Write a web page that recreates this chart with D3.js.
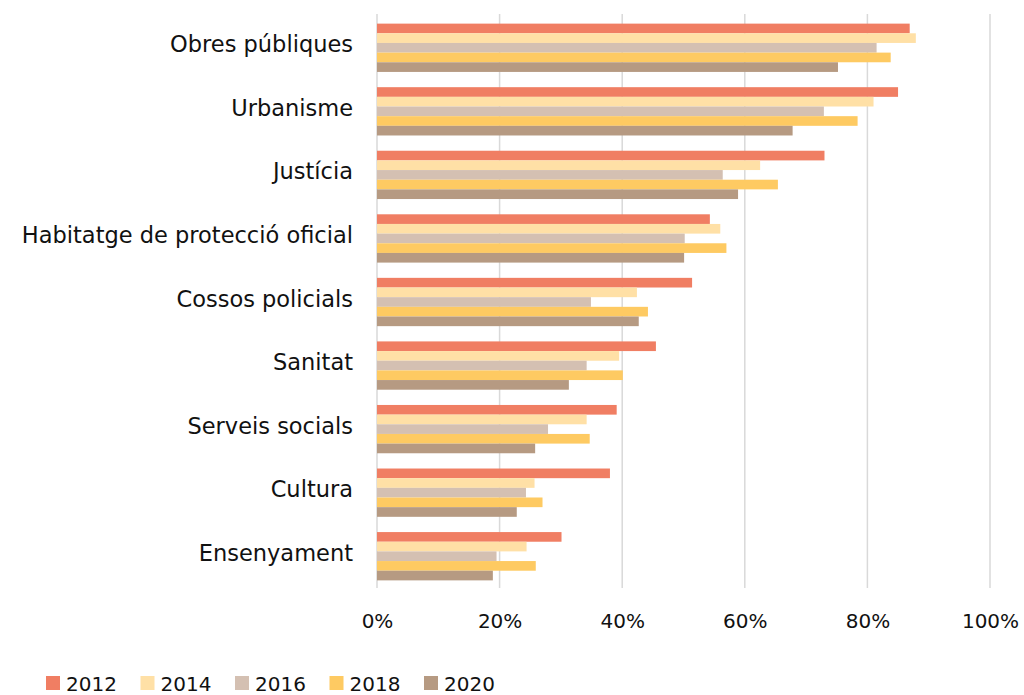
<!DOCTYPE html>
<html>
<head>
<meta charset="utf-8">
<script src="https://cdn.jsdelivr.net/npm/d3@7"></script>
<style>
  body { margin: 0; background: #fff; }
  svg text { font-family: "DejaVu Sans", sans-serif; fill: #111; }
</style>
</head>
<body>
<div id="chart"></div>
<script>
var categories = ["Obres públiques", "Urbanisme", "Justícia", "Habitatge de protecció oficial",
  "Cossos policials", "Sanitat", "Serveis socials", "Cultura", "Ensenyament"];
var years = ["2012", "2014", "2016", "2018", "2020"];
var colors = ["#F07E63", "#FFE0A6", "#D4C0B2", "#FECA62", "#B69A82"];

// values per year, same order as categories
var v2012 = [86.9, 85.0, 73.0, 54.3, 51.4, 45.5, 39.1, 38.0, 30.1];
var v2014 = [87.9, 81.0, 62.5, 56.0, 42.4, 39.5, 34.2, 25.7, 24.4];
var v2016 = [81.5, 72.9, 56.4, 50.2, 34.9, 34.2, 27.9, 24.3, 19.5];
var v2018 = [83.8, 78.4, 65.4, 57.0, 44.2, 40.1, 34.7, 27.0, 25.9];
var v2020 = [75.2, 67.8, 58.9, 50.1, 42.7, 31.3, 25.8, 22.8, 18.9];
var xTicks = [0, 20, 40, 60, 80, 100];

var series = [v2012, v2014, v2016, v2018, v2020];
var w = 1024, h = 695;
var margin = {top: 16, right: 34, bottom: 107, left: 377};

var svg = d3.select("#chart").append("svg")
  .attr("width", w)
  .attr("height", h);

var x = d3.scaleLinear()
  .domain([0, 100])
  .range([margin.left, w - margin.right]);
var y = d3.scaleBand()
  .domain(categories)
  .range([margin.top, h - margin.bottom])
  .paddingInner(0.24)
  .paddingOuter(0.12);
var ySub = d3.scaleBand()
  .domain(years)
  .range([0, y.bandwidth()]);

// gridlines
svg.append("g")
  .selectAll("line")
  .data(xTicks)
  .enter()
  .append("line")
  .attr("x1", function(d) { return x(d); })
  .attr("x2", function(d) { return x(d); })
  .attr("y1", 14)
  .attr("y2", h - margin.bottom)
  .attr("stroke", "#d9d9d9")
  .attr("stroke-width", 1.5);

// bars
var rows = [];
categories.forEach(function(c, i) {
  years.forEach(function(yr, j) {
    rows.push({cat: c, year: yr, value: series[j][i], color: colors[j]});
  });
});

svg.append("g")
  .selectAll("rect")
  .data(rows)
  .enter()
  .append("rect")
  .attr("x", x(0))
  .attr("y", function(d) { return y(d.cat) + ySub(d.year); })
  .attr("width", function(d) { return x(d.value) - x(0); })
  .attr("height", ySub.bandwidth())
  .attr("fill", function(d) { return d.color; });

// category labels
var yAxis = d3.axisLeft(y).tickSize(0).tickPadding(24);
svg.append("g")
  .attr("class", "y-axis")
  .attr("transform", "translate(" + margin.left + ",0)")
  .call(yAxis)
  .call(function(g) { g.select(".domain").remove(); })
  .selectAll("text")
  .attr("dy", "0.2em")
  .style("font-size", "22.5px")
  .style("font-family", "'DejaVu Sans', sans-serif")
  .attr("fill", "#111");

// x tick labels
var xAxis = d3.axisBottom(x)
  .tickValues(xTicks)
  .tickSize(0)
  .tickPadding(26)
  .tickFormat(function(d) { return d + "%"; });
svg.append("g")
  .attr("class", "x-axis")
  .attr("transform", "translate(0," + (h - margin.bottom) + ")")
  .call(xAxis)
  .call(function(g) { g.select(".domain").remove(); })
  .selectAll("text")
  .style("font-size", "20px")
  .style("font-family", "'DejaVu Sans', sans-serif")
  .attr("fill", "#111");

// legend
var legend = svg.append("g")
  .attr("transform", "translate(46,675)");
var item = legend.selectAll("g")
  .data(years)
  .enter()
  .append("g")
  .attr("transform", function(d, i) { return "translate(" + (i * 94.5) + ",0)"; });
item.append("rect")
  .attr("y", 1)
  .attr("width", 14)
  .attr("height", 14)
  .attr("fill", function(d, i) { return colors[i]; });
item.append("text")
  .attr("x", 20)
  .attr("y", 16)
  .style("font-size", "20px")
  .text(function(d) { return d; });
</script>
</body>
</html>
